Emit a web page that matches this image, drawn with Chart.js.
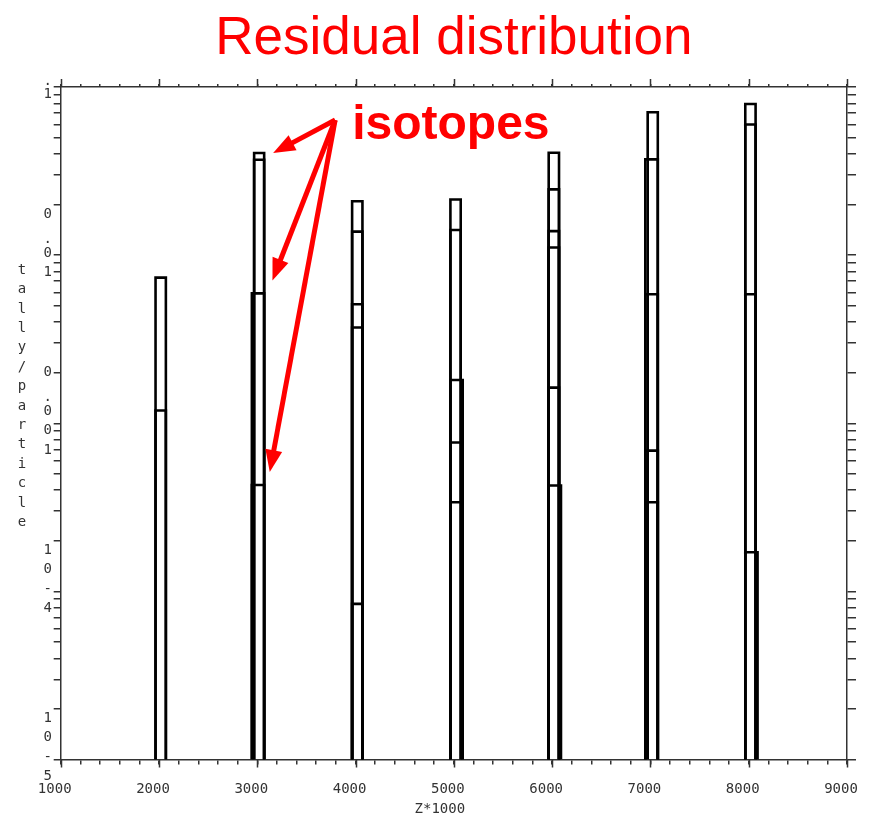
<!DOCTYPE html>
<html>
<head>
<meta charset="utf-8">
<title>Residual distribution</title>
<script src="https://cdn.jsdelivr.net/npm/chart.js@4.4.1/dist/chart.umd.min.js"></script>
<style>
  html, body { margin: 0; padding: 0; background: #ffffff; }
  canvas { display: block; }
</style>
</head>
<body>
<canvas id="residuals" width="873" height="822"></canvas>
<script>
// Residual nuclide tally per source particle, one bin per isotope,
// grouped by element (x axis is Z*1000). Values listed top to bottom.
const tallyHe = [7.35e-3, 1.19e-3];
const tallyLi = [4.05e-2, 3.69e-2, 5.92e-3, 4.29e-4];
const tallyBe = [2.09e-2, 1.38e-2, 5.10e-3, 3.71e-3, 8.43e-5];
const tallyB  = [2.14e-2, 1.41e-2, 1.81e-3, 7.69e-4, 3.39e-4];
const tallyC  = [4.06e-2, 2.46e-2, 1.39e-2, 1.11e-2, 1.63e-3, 4.26e-4];
const tallyN  = [7.08e-2, 3.71e-2, 5.85e-3, 6.87e-4, 3.39e-4];
const tallyO  = [7.93e-2, 5.98e-2, 5.85e-3, 1.71e-4];

// Bin edges (Z*1000 units), one [low, high] pair per isotope above
const edgesHe = [[1965, 2070], [1965, 2070]];
const edgesLi = [[2968, 3070], [2968, 3070], [2945, 3070], [2945, 3070]];
const edgesBe = [[3965, 4070], [3965, 4070], [3965, 4070], [3965, 4070], [3965, 4070]];
const edgesB  = [[4965, 5070], [4965, 5070], [4965, 5090], [4965, 5090], [4965, 5090]];
const edgesC  = [[5965, 6070], [5965, 6070], [5965, 6070], [5965, 6070], [5965, 6070], [5965, 6090]];
const edgesN  = [[6972, 7075], [6948, 7075], [6948, 7075], [6948, 7075], [6948, 7075]];
const edgesO  = [[7965, 8070], [7965, 8070], [7965, 8070], [7965, 8090]];

// Axis ticks and their labels
const xTickValues = [1000, 2000, 3000, 4000, 5000, 6000, 7000, 8000, 9000];
const xTickLabels = ['1000', '2000', '3000', '4000', '5000', '6000', '7000', '8000', '9000'];
const yTickValues = [1e-5, 1e-4, 1e-3, 1e-2, 1e-1];
const yTickLabels = ['10-5', '10-4', '0.001', '0.01', '0.1'];

const chartTitle = 'Residual distribution';
const xTitle = 'Z*1000';
const yTitle = 'tally/particle';
const calloutText = 'isotopes';

const INK = '#333333';
const MONO = '"DejaVu Sans Mono", "Liberation Mono", monospace';
const yMin = yTickValues[0];
const yMax = yTickValues[yTickValues.length - 1];

// minor log ticks 1..9 per decade
const yGridValues = [];
for (let d = 0; d < yTickValues.length - 1; d++) {
  for (let k = 1; k <= 9; k++) yGridValues.push(k * yTickValues[d]);
}
yGridValues.push(yMax);

// each isotope bin drawn as an open outline from the axis floor to its tally
const tallies = [tallyHe, tallyLi, tallyBe, tallyB, tallyC, tallyN, tallyO];
const edges = [edgesHe, edgesLi, edgesBe, edgesB, edgesC, edgesN, edgesO];
const datasets = [];
tallies.forEach((vals, e) => vals.forEach((v, k) => {
  const [lo, hi] = edges[e][k];
  datasets.push({
    data: [{ x: lo, y: yMin }, { x: lo, y: v }, { x: hi, y: v }, { x: hi, y: yMin }],
    borderColor: '#000000',
    borderWidth: 2.6,
    borderJoinStyle: 'miter',
    pointRadius: 0,
    pointHoverRadius: 0,
    fill: false,
    tension: 0
  });
}));

const frameGrid = { drawOnChartArea: false, color: INK, lineWidth: 1.5 };
const frameBorder = { display: true, color: INK, width: 1.5 };

function setLogTicks(scale) {
  scale.ticks = yGridValues.map(v => ({ value: v, major: yTickValues.includes(v) }));
}

// text and callout drawn with the chart's scales
const decorations = {
  id: 'decorations',
  afterDraw(chart) {
    const { ctx, chartArea: area, scales } = chart;
    const xs = scales.x, ys = scales.y;
    ctx.save();

    // longer ticks at the labelled x values, bottom and top
    ctx.strokeStyle = INK;
    ctx.lineWidth = 1.5;
    ctx.beginPath();
    xTickValues.forEach(v => {
      const px = Math.round(xs.getPixelForValue(v)) + 0.5;
      ctx.moveTo(px, area.bottom);
      ctx.lineTo(px, area.bottom + 8);
      ctx.moveTo(px, area.top);
      ctx.lineTo(px, area.top - 8);
    });
    ctx.stroke();

    // y tick labels, one character per line
    ctx.save();
    ctx.beginPath();
    ctx.rect(0, area.top - 9, area.left, chart.height);
    ctx.clip();
    ctx.fillStyle = INK;
    ctx.font = '14px ' + MONO;
    ctx.textAlign = 'center';
    ctx.textBaseline = 'middle';
    const cell = 19.5;
    yTickValues.forEach((v, i) => {
      const chars = yTickLabels[i].split('');
      const mid = ys.getPixelForValue(v) - 12;
      const start = mid - (chars.length - 1) * cell / 2;
      chars.forEach((c, j) => {
        const cy = start + j * cell + (c === '.' ? 6 : 0);
        ctx.fillText(c, area.left - 13, cy);
      });
    });
    ctx.restore();

    // y axis title, one character per line
    ctx.fillStyle = INK;
    ctx.font = '14px ' + MONO;
    ctx.textAlign = 'center';
    ctx.textBaseline = 'middle';
    const tChars = yTitle.split('');
    const tStep = 19.4;
    const tMid = (area.top + area.bottom) / 2 - 27;
    const tStart = tMid - (tChars.length - 1) * tStep / 2;
    tChars.forEach((c, j) => ctx.fillText(c, 22, tStart + j * tStep));

    // x axis title
    ctx.fillText(xTitle, (area.left + area.right) / 2 - 14, area.bottom + 50);

    // callout pointing at the lithium isotope bins
    const liHi = xs.getPixelForValue(edgesLi[0][1]);
    const tips = [
      [liHi + 9, ys.getPixelForValue(tallyLi[0])],
      [liHi + 8.3, ys.getPixelForValue(tallyLi[2]) - 13],
      [liHi + 5.6, ys.getPixelForValue(tallyLi[3]) - 13]
    ];
    const origin = [tips[0][0] + 62, tips[0][1] - 33];
    ctx.strokeStyle = '#ff0000';
    ctx.fillStyle = '#ff0000';
    ctx.lineWidth = 5;
    ctx.lineCap = 'butt';
    const headLen = 22, headHalf = 8.5;
    tips.forEach(([tx, ty]) => {
      const dx = tx - origin[0], dy = ty - origin[1];
      const len = Math.hypot(dx, dy);
      const ux = dx / len, uy = dy / len;
      const bx = tx - ux * headLen, by = ty - uy * headLen;
      ctx.beginPath();
      ctx.moveTo(origin[0], origin[1]);
      ctx.lineTo(bx + ux * 2, by + uy * 2);
      ctx.stroke();
      ctx.beginPath();
      ctx.moveTo(tx, ty);
      ctx.lineTo(bx - uy * headHalf, by + ux * headHalf);
      ctx.lineTo(bx + uy * headHalf, by - ux * headHalf);
      ctx.closePath();
      ctx.fill();
    });
    ctx.font = 'bold 48px "Liberation Sans", Arial, sans-serif';
    ctx.textAlign = 'left';
    ctx.textBaseline = 'alphabetic';
    ctx.fillText(calloutText, tips[0][0] + 79, tips[0][1] - 14);

    ctx.restore();
  }
};

new Chart(document.getElementById('residuals'), {
  type: 'line',
  data: { datasets },
  options: {
    responsive: false,
    devicePixelRatio: 1,
    animation: false,
    events: [],
    layout: { padding: 0 },
    plugins: {
      legend: { display: false },
      tooltip: { enabled: false },
      title: {
        display: true,
        text: chartTitle,
        color: '#ff0000',
        fullSize: false,
        font: { family: '"Liberation Sans", Arial, sans-serif', size: 53, weight: 'normal', lineHeight: 1 },
        padding: { top: 13, bottom: 0 }
      }
    },
    scales: {
      x: {
        type: 'linear',
        position: 'bottom',
        min: xTickValues[0],
        max: xTickValues[xTickValues.length - 1],
        ticks: {
          stepSize: 200,
          autoSkip: false,
          maxRotation: 0,
          labelOffset: -6,
          padding: 16,
          color: INK,
          font: { family: MONO, size: 14 },
          callback: v => {
            const i = xTickValues.indexOf(v);
            return i >= 0 ? xTickLabels[i] : '';
          }
        },
        grid: Object.assign({ tickLength: 5 }, frameGrid),
        border: frameBorder,
        afterFit: s => { s.height = 62.5; s.paddingLeft = 0; s.paddingRight = 0; }
      },
      xTop: {
        type: 'linear',
        position: 'top',
        min: xTickValues[0],
        max: xTickValues[xTickValues.length - 1],
        ticks: { display: false, stepSize: 200 },
        grid: Object.assign({ tickLength: 3 }, frameGrid),
        border: frameBorder,
        afterFit: s => { s.height = 21; }
      },
      y: {
        type: 'logarithmic',
        position: 'left',
        min: yMin,
        max: yMax,
        afterBuildTicks: setLogTicks,
        ticks: { display: false },
        grid: Object.assign({ tickLength: 7 }, frameGrid),
        border: frameBorder,
        afterFit: s => { s.width = 60.7; s.paddingTop = 0; s.paddingBottom = 0; }
      },
      yRight: {
        type: 'logarithmic',
        position: 'right',
        min: yMin,
        max: yMax,
        afterBuildTicks: setLogTicks,
        ticks: { display: false },
        grid: Object.assign({ tickLength: 9 }, frameGrid),
        border: frameBorder,
        afterFit: s => { s.width = 26; s.paddingTop = 0; s.paddingBottom = 0; }
      }
    }
  },
  plugins: [decorations]
});
</script>
</body>
</html>
